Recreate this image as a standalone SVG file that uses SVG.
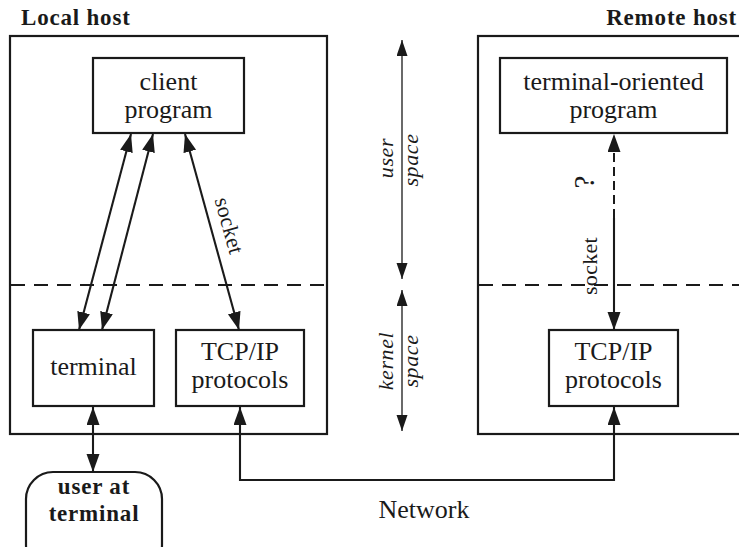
<svg xmlns="http://www.w3.org/2000/svg" width="739" height="547" viewBox="0 0 739 547">
<style>
.box{fill:#fff;stroke:#1a1a1a;stroke-width:2.2}
.host{fill:none;stroke:#1a1a1a;stroke-width:2.2}
text{font-family:"Liberation Serif","Times New Roman",serif;fill:#1a1a1a}
.t{font-size:26px;text-anchor:middle}
.b{font-size:23px;font-weight:bold;letter-spacing:0.8px}
.i{font-size:22px;font-style:italic;letter-spacing:0.6px;text-anchor:middle}
.s{font-size:22px;letter-spacing:0.3px;text-anchor:middle}
.ln{fill:none;stroke:#1a1a1a;stroke-width:2.1;marker-start:url(#ah);marker-end:url(#ah)}
.thin{fill:none;stroke:#1a1a1a;stroke-width:1.3;marker-start:url(#ah2);marker-end:url(#ah2)}
.dash{fill:none;stroke:#1a1a1a;stroke-width:2;stroke-dasharray:14 9}
</style>
<defs>
<marker id="ah" markerUnits="userSpaceOnUse" markerWidth="20" markerHeight="14" refX="18" refY="6.5" orient="auto-start-reverse"><path d="M0,0 L18,6.5 L0,13 z" fill="#1a1a1a"/></marker>
<marker id="ah2" markerUnits="userSpaceOnUse" markerWidth="18" markerHeight="12" refX="16" refY="5.5" orient="auto-start-reverse"><path d="M0,0 L16,5.5 L0,11 z" fill="#1a1a1a"/></marker>
<marker id="ahs" markerUnits="userSpaceOnUse" markerWidth="20" markerHeight="14" refX="18" refY="6.5" orient="auto"><path d="M0,0 L18,6.5 L0,13 z" fill="#1a1a1a"/></marker>
</defs>
<rect width="739" height="547" fill="#fff"/>

<g id="local-host">
<rect class="host" x="10" y="36" width="317" height="398"/>
<text class="b" x="21" y="25">Local host</text>
<line class="dash" x1="11" y1="285" x2="326" y2="285"/>
</g>
<g id="remote-host">
<rect class="host" x="478" y="36" width="270" height="398"/>
<text class="b" x="737" y="25" text-anchor="end">Remote host</text>
<line class="dash" x1="479" y1="285" x2="739" y2="285"/>
</g>

<g id="client-program">
<rect class="box" x="93" y="58" width="151" height="75"/>
<text class="t" x="168.5" y="90">client</text>
<text class="t" x="168.5" y="118">program</text>
</g>
<g id="terminal">
<rect class="box" x="33" y="330" width="121" height="76"/>
<text class="t" x="93.5" y="375">terminal</text>
</g>
<g id="tcpip-local">
<rect class="box" x="176" y="330" width="128" height="76"/>
<text class="t" x="240" y="360">TCP/IP</text>
<text class="t" x="240" y="388">protocols</text>
</g>
<g id="terminal-oriented-program">
<rect class="box" x="500" y="58" width="227" height="75"/>
<text class="t" x="613.5" y="90">terminal-oriented</text>
<text class="t" x="613.5" y="118">program</text>
</g>
<g id="tcpip-remote">
<rect class="box" x="549" y="330" width="129" height="76"/>
<text class="t" x="613.5" y="360">TCP/IP</text>
<text class="t" x="613.5" y="388">protocols</text>
</g>
<g id="user-at-terminal">
<rect class="box" x="26" y="472" width="136" height="100" rx="27" ry="27"/>
<text class="b" x="94" y="494" text-anchor="middle">user at</text>
<text class="b" x="94" y="521" text-anchor="middle">terminal</text>
</g>

<g id="connectors">
<line class="ln" x1="79" y1="330" x2="131" y2="134"/>
<line class="ln" x1="102" y1="330" x2="153" y2="134"/>
<line class="ln" x1="185" y1="134" x2="239" y2="330"/>
<text class="s" transform="translate(228,226) rotate(74.5)" dy="6">socket</text>
<line class="ln" x1="93" y1="407" x2="93" y2="472"/>
<polyline class="ln" points="240,407 240,480 614,480 614,407"/>
<line class="dash" x1="614" y1="218" x2="614" y2="134" style="stroke-dasharray:9 5;marker-end:url(#ahs)"/>
<line fill="none" stroke="#1a1a1a" stroke-width="2.1" x1="614" y1="218" x2="614" y2="330" marker-end="url(#ahs)"/>
<text class="s" transform="translate(592,266) rotate(-90)" dy="5">socket</text>
<text class="s" transform="translate(586,182) rotate(-90)" dy="8" style="font-size:29px">?</text>
<line class="thin" x1="402" y1="40" x2="402" y2="279"/>
<line class="thin" x1="402" y1="290" x2="402" y2="431"/>
<text class="i" transform="translate(393,158) rotate(-90)">user</text>
<text class="i" transform="translate(418,160) rotate(-90)">space</text>
<text class="i" transform="translate(393,361) rotate(-90)">kernel</text>
<text class="i" transform="translate(418,361) rotate(-90)">space</text>
<text class="t" x="424" y="518">Network</text>
</g>
</svg>
